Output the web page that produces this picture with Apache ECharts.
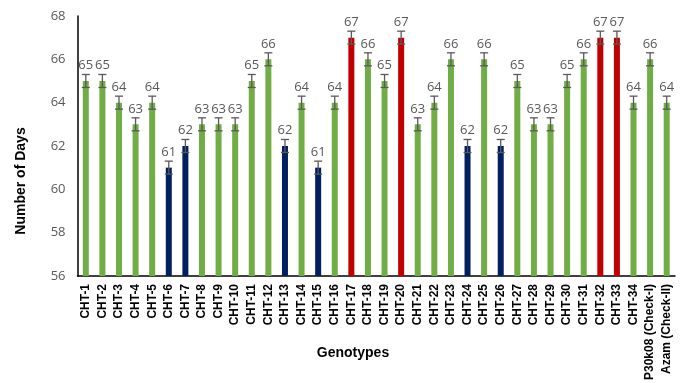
<!DOCTYPE html>
<html>
<head>
<meta charset="utf-8">
<script src="https://cdn.jsdelivr.net/npm/echarts@6/dist/echarts.min.js"></script>
<style>
  html, body { margin: 0; padding: 0; background: #fff; }
  #chart { width: 684px; height: 383px; }
</style>
</head>
<body>
<div id="chart"></div>
<script>
// Genotype names along the x axis
const genotypes = [
  'CHT-1','CHT-2','CHT-3','CHT-4','CHT-5','CHT-6','CHT-7','CHT-8','CHT-9','CHT-10',
  'CHT-11','CHT-12','CHT-13','CHT-14','CHT-15','CHT-16','CHT-17','CHT-18','CHT-19','CHT-20',
  'CHT-21','CHT-22','CHT-23','CHT-24','CHT-25','CHT-26','CHT-27','CHT-28','CHT-29','CHT-30',
  'CHT-31','CHT-32','CHT-33','CHT-34','P30k08 (Check-I)','Azam (Check-II)'
];
// Number of days per genotype
const days = [
  65, 65, 64, 63, 64, 61, 62, 63, 63, 63,
  65, 66, 62, 64, 61, 64, 67, 66, 65, 67,
  63, 64, 66, 62, 66, 62, 65, 63, 63, 65,
  66, 67, 67, 64, 66, 64
];
// Standard error for each bar
const stdErr = [
  0.3, 0.3, 0.3, 0.3, 0.3, 0.3, 0.3, 0.3, 0.3, 0.3,
  0.3, 0.3, 0.3, 0.3, 0.3, 0.3, 0.3, 0.3, 0.3, 0.3,
  0.3, 0.3, 0.3, 0.3, 0.3, 0.3, 0.3, 0.3, 0.3, 0.3,
  0.3, 0.3, 0.3, 0.3, 0.3, 0.3
];
// Maturity class: 'early', 'late' or 'mid'
const maturity = [
  'mid','mid','mid','mid','mid','early','early','mid','mid','mid',
  'mid','mid','early','mid','early','mid','late','mid','mid','late',
  'mid','mid','mid','early','mid','early','mid','mid','mid','mid',
  'mid','late','late','mid','mid','mid'
];
const yTicks = [56, 58, 60, 62, 64, 66, 68];
const xTitle = 'Genotypes';
const yTitle = 'Number of Days';

const classColor = { mid: '#70AD47', early: '#002060', late: '#C00000' };
const font = 'Open Sans, Liberation Sans, sans-serif';
const boldFont = 'Liberation Sans, Arial, sans-serif';

const chart = echarts.init(document.getElementById('chart'));
chart.setOption({
  animation: false,
  grid: { left: 77.5, right: 9, top: 16, bottom: 107 },
  graphic: [
    {
      type: 'text', x: 21, y: 181, rotation: Math.PI / 2,
      style: {
        text: yTitle, fill: '#000', font: 'bold 14px ' + boldFont,
        align: 'center', verticalAlign: 'middle'
      }
    },
    {
      type: 'text', x: 353, y: 353,
      style: {
        text: xTitle, fill: '#000', font: 'bold 14px ' + boldFont,
        align: 'center', verticalAlign: 'middle'
      }
    }
  ],
  xAxis: {
    type: 'category',
    data: genotypes,
    axisLine: { lineStyle: { color: '#000', width: 1.5 } },
    axisTick: { show: false },
    axisLabel: {
      interval: 0, rotate: 90, margin: 8,
      fontFamily: boldFont, fontWeight: 'bold', fontSize: 12, color: '#000'
    }
  },
  yAxis: {
    type: 'value',
    min: yTicks[0], max: yTicks[yTicks.length - 1], interval: 2,
    axisLine: { show: true, lineStyle: { color: '#000', width: 1.5 } },
    axisTick: { show: false },
    splitLine: { show: false },
    axisLabel: { fontFamily: font, fontSize: 13, color: '#595959', margin: 12 }
  },
  series: [
    {
      type: 'bar',
      barWidth: 6,
      data: days.map((v, i) => ({ value: v, itemStyle: { color: classColor[maturity[i]] } })),
      label: {
        show: true, position: 'top', distance: 9,
        fontFamily: font, fontSize: 13, color: '#595959'
      },
      z: 2
    },
    {
      type: 'custom',
      data: days.map((v, i) => [i, v - stdErr[i], v + stdErr[i]]),
      renderItem: function (params, api) {
        const lo = api.coord([api.value(0), api.value(1)]);
        const hi = api.coord([api.value(0), api.value(2)]);
        const w = 4;
        const style = { stroke: '#595959', lineWidth: 1.3 };
        return {
          type: 'group',
          children: [
            { type: 'line', shape: { x1: lo[0], y1: lo[1], x2: hi[0], y2: hi[1] }, style },
            { type: 'line', shape: { x1: lo[0] - w, y1: lo[1], x2: lo[0] + w, y2: lo[1] }, style },
            { type: 'line', shape: { x1: hi[0] - w, y1: hi[1], x2: hi[0] + w, y2: hi[1] }, style }
          ]
        };
      },
      z: 3
    }
  ]
});
</script>
</body>
</html>
